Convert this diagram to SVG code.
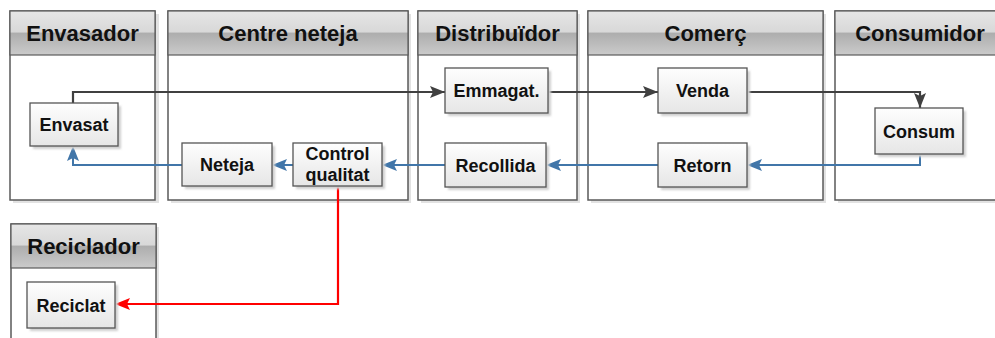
<svg xmlns="http://www.w3.org/2000/svg" width="995" height="338" viewBox="0 0 995 338">
<style>
.pool{fill:#ffffff;stroke:#5a5a5a;stroke-width:1.5}
.pshadow{fill:#e2e2e2}
.hdr{fill:url(#hg);stroke:#5a5a5a;stroke-width:1.2}
.ht{font-family:"Liberation Sans",Arial,sans-serif;font-weight:bold;font-size:22px;fill:#111;text-anchor:middle}
.box{fill:url(#bg);stroke:#555;stroke-width:1.3}
.bshadow{fill:#cfcfcf;filter:url(#blur)}
.nt{font-family:"Liberation Sans",Arial,sans-serif;font-weight:bold;font-size:18px;fill:#111;text-anchor:middle}
.cb{fill:none;stroke:#404040;stroke-width:2.2}
.cl{fill:none;stroke:#4176a9;stroke-width:2}
.cr{fill:none;stroke:#ff0000;stroke-width:2.2}
</style>
<defs>
<linearGradient id="hg" x1="0" y1="0" x2="0" y2="1">
<stop offset="0" stop-color="#e6e6e6"/>
<stop offset="0.48" stop-color="#d8d8d8"/>
<stop offset="0.5" stop-color="#adadad"/>
<stop offset="1" stop-color="#cbcbcb"/>
</linearGradient>
<linearGradient id="bg" x1="0" y1="0" x2="0" y2="1">
<stop offset="0" stop-color="#fefefe"/>
<stop offset="1" stop-color="#e6e6e6"/>
</linearGradient>
<filter id="blur" x="-10%" y="-10%" width="120%" height="130%"><feGaussianBlur stdDeviation="1"/></filter>
<marker id="ab" markerUnits="userSpaceOnUse" markerWidth="16" markerHeight="12" refX="15" refY="6" orient="auto"><path d="M0,0 L15,6 L0,12 L3,6 z" fill="#404040"/></marker>
<marker id="al" markerUnits="userSpaceOnUse" markerWidth="16" markerHeight="12" refX="15" refY="6" orient="auto"><path d="M0,0 L15,6 L0,12 L3,6 z" fill="#4176a9"/></marker>
<marker id="ar" markerUnits="userSpaceOnUse" markerWidth="16" markerHeight="12" refX="15" refY="6" orient="auto"><path d="M0,0 L15,6 L0,12 L3,6 z" fill="#ff0000"/></marker>
</defs>

<g id="pool-envasador">
<rect class="pshadow" x="13" y="14" width="146" height="189"/>
<rect class="pool" x="10" y="11" width="145" height="189"/>
<rect class="hdr" x="10" y="11" width="145" height="44"/>
<text class="ht" x="82.5" y="40.5">Envasador</text>
</g>
<g id="pool-centre">
<rect class="pshadow" x="171" y="14" width="240" height="189"/>
<rect class="pool" x="168" y="11" width="240" height="189"/>
<rect class="hdr" x="168" y="11" width="240" height="44"/>
<text class="ht" x="288" y="40.5">Centre neteja</text>
</g>
<g id="pool-distribuidor">
<rect class="pshadow" x="421" y="14" width="159" height="189"/>
<rect class="pool" x="418" y="11" width="159" height="189"/>
<rect class="hdr" x="418" y="11" width="159" height="44"/>
<text class="ht" x="497.5" y="40.5">Distribuïdor</text>
</g>
<g id="pool-comerc">
<rect class="pshadow" x="591" y="14" width="235" height="189"/>
<rect class="pool" x="588" y="11" width="235" height="189"/>
<rect class="hdr" x="588" y="11" width="235" height="44"/>
<text class="ht" x="705.5" y="40.5">Comerç</text>
</g>
<g id="pool-consumidor">
<rect class="pshadow" x="838" y="14" width="170" height="189"/>
<rect class="pool" x="835" y="11" width="170" height="189"/>
<rect class="hdr" x="835" y="11" width="170" height="44"/>
<text class="ht" x="920" y="40.5">Consumidor</text>
</g>
<g id="pool-reciclador">
<rect class="pshadow" x="14" y="227" width="145" height="120"/>
<rect class="pool" x="11" y="224" width="145" height="120"/>
<rect class="hdr" x="11" y="224" width="145" height="44"/>
<text class="ht" x="83.5" y="253.5">Reciclador</text>
</g>

<g id="connectors">
<path class="cb" d="M73,103 V92 H445" marker-end="url(#ab)"/>
<path class="cb" d="M548,92 H658" marker-end="url(#ab)"/>
<path class="cb" d="M747,92 H920 V108" marker-end="url(#ab)"/>
<path class="cl" d="M920,154 V165 H747" marker-end="url(#al)"/>
<path class="cl" d="M658,165 H546" marker-end="url(#al)"/>
<path class="cl" d="M445,165 H382" marker-end="url(#al)"/>
<path class="cl" d="M293,165 H272" marker-end="url(#al)"/>
<path class="cl" d="M182,165 H73 V146" marker-end="url(#al)"/>
<path class="cr" d="M338,186 V304 H115" marker-end="url(#ar)"/>
</g>

<g id="node-envasat">
<rect class="bshadow" x="33" y="106" width="88" height="43"/>
<rect class="box" x="30" y="103" width="88" height="43"/>
<text class="nt" x="74" y="131">Envasat</text>
</g>
<g id="node-neteja">
<rect class="bshadow" x="185" y="146" width="90" height="43"/>
<rect class="box" x="182" y="143" width="90" height="43"/>
<text class="nt" x="227" y="171">Neteja</text>
</g>
<g id="node-control">
<rect class="bshadow" x="296" y="146" width="89" height="43"/>
<rect class="box" x="293" y="143" width="89" height="43"/>
<text class="nt" x="337.5" y="160">Control</text>
<text class="nt" x="337.5" y="180.5">qualitat</text>
</g>
<g id="node-emmagat">
<rect class="bshadow" x="448" y="71" width="103" height="45"/>
<rect class="box" x="445" y="68" width="103" height="45"/>
<text class="nt" x="496.5" y="97">Emmagat.</text>
</g>
<g id="node-recollida">
<rect class="bshadow" x="448" y="146" width="101" height="44"/>
<rect class="box" x="445" y="143" width="101" height="44"/>
<text class="nt" x="495.5" y="171.5">Recollida</text>
</g>
<g id="node-venda">
<rect class="bshadow" x="661" y="71" width="89" height="45"/>
<rect class="box" x="658" y="68" width="89" height="45"/>
<text class="nt" x="702.5" y="97">Venda</text>
</g>
<g id="node-retorn">
<rect class="bshadow" x="661" y="146" width="89" height="44"/>
<rect class="box" x="658" y="143" width="89" height="44"/>
<text class="nt" x="702.5" y="171.5">Retorn</text>
</g>
<g id="node-consum">
<rect class="bshadow" x="878" y="111" width="88" height="46"/>
<rect class="box" x="875" y="108" width="88" height="46"/>
<text class="nt" x="919" y="137.5">Consum</text>
</g>
<g id="node-reciclat">
<rect class="bshadow" x="30" y="285" width="88" height="46"/>
<rect class="box" x="27" y="282" width="88" height="46"/>
<text class="nt" x="71" y="311.5">Reciclat</text>
</g>
</svg>
